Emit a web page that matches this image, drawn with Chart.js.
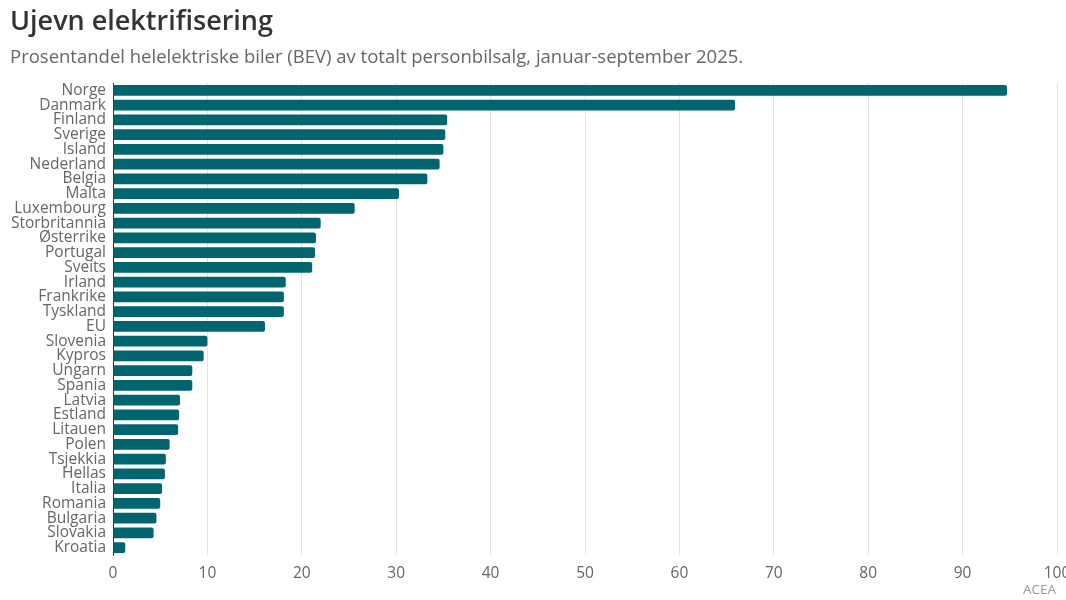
<!DOCTYPE html>
<html>
<head>
<meta charset="utf-8">
<title>Ujevn elektrifisering</title>
<script src="https://cdn.jsdelivr.net/npm/chart.js"></script>
<style>
  html, body { margin: 0; padding: 0; background: #fff; overflow: hidden; }
  body { width: 1066px; height: 600px; position: relative; font-family: 'Open Sans', sans-serif; }
  #title { position: absolute; left: 10px; top: 6px; font-size: 27px; line-height: 1; font-weight: 600; color: #333; white-space: nowrap; }
  #subtitle { position: absolute; left: 10px; top: 46.5px; font-size: 18.5px; line-height: 1; color: #666; white-space: nowrap; }
  #source { position: absolute; right: 10px; top: 583px; font-size: 13.5px; line-height: 1; color: #999; }
  #wrap { position: absolute; left: 0; top: 0; width: 1066px; height: 600px; }
</style>
</head>
<body>
<div id="wrap"><canvas id="chart"></canvas></div>
<div id="title">Ujevn elektrifisering</div>
<div id="subtitle">Prosentandel helelektriske biler (BEV) av totalt personbilsalg, januar-september 2025.</div>
<div id="source">ACEA</div>
<script>
// land, sortert etter andel
const countries = [
    'Norge', 'Danmark', 'Finland', 'Sverige', 'Island', 'Nederland', 'Belgia', 'Malta',
    'Luxembourg', 'Storbritannia', 'Østerrike', 'Portugal', 'Sveits', 'Irland', 'Frankrike',
    'Tyskland', 'EU', 'Slovenia', 'Kypros', 'Ungarn', 'Spania', 'Latvia', 'Estland',
    'Litauen', 'Polen', 'Tsjekkia', 'Hellas', 'Italia', 'Romania', 'Bulgaria', 'Slovakia', 'Kroatia'
];

// prosent BEV av personbilsalg
const bevShare = [
    94.7, 65.9, 35.4, 35.2, 35.0, 34.6, 33.3, 30.3,
    25.6, 22.0, 21.5, 21.4, 21.1, 18.3, 18.1,
    18.1, 16.1, 10.0, 9.6, 8.4, 8.4, 7.1, 7.0,
    6.9, 6.0, 5.6, 5.5, 5.2, 5.0, 4.6, 4.3, 1.3
];

const xTicks = [0, 10, 20, 30, 40, 50, 60, 70, 80, 90, 100];

const ctx = document.getElementById('chart').getContext('2d');
new Chart(ctx, {
    type: 'bar',
    data: {
        labels: countries,
        datasets: [{
            label: 'BEV-andel',
            data: bevShare,
            backgroundColor: '#00656e',
            borderRadius: 2,
            barPercentage: 0.73,
            categoryPercentage: 1
        }]
    },
    options: {
        indexAxis: 'y',
        responsive: true,
        maintainAspectRatio: false,
        animation: false,
        layout: {
            padding: { top: 83, right: 9, bottom: 0, left: 0 }
        },
        plugins: {
            legend: { display: false },
            tooltip: { enabled: false }
        },
        scales: {
            x: {
                min: 0,
                max: 100,
                afterBuildTicks: (scale) => { scale.ticks = xTicks.map(v => ({ value: v })); },
                afterFit: (scale) => { scale.height = 45; scale.paddingRight = 0; scale.paddingLeft = 0; },
                grid: { color: '#e3e3e3', drawTicks: false },
                border: { display: false },
                ticks: {
                    color: '#666',
                    padding: 9,
                    font: { family: 'Open Sans', size: 15.5 }
                }
            },
            y: {
                afterFit: (scale) => { scale.width = 113; },
                grid: { display: false, drawTicks: false },
                border: { display: true, color: '#333', width: 1 },
                ticks: {
                    color: '#666',
                    padding: 7,
                    autoSkip: false,
                    font: { family: 'Open Sans', size: 15.5, lineHeight: 1 }
                }
            }
        }
    }
});
</script>
</body>
</html>
